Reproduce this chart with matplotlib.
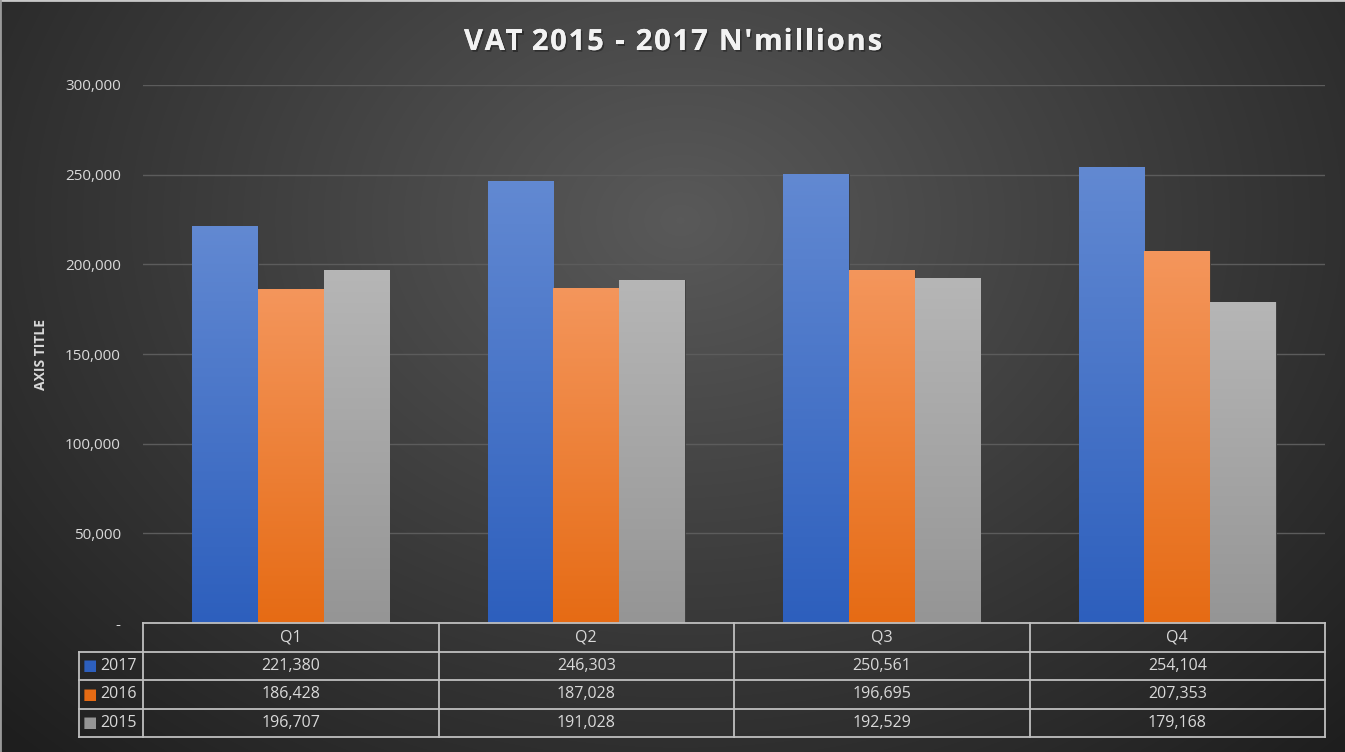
import numpy as np
import matplotlib
matplotlib.use("Agg")
import matplotlib.pyplot as plt
import matplotlib.patheffects as pe
from matplotlib.transforms import blended_transform_factory
from matplotlib.colors import LinearSegmentedColormap
from matplotlib.font_manager import FontProperties

# data
quarters = ["Q1", "Q2", "Q3", "Q4"]
years = ["2017", "2016", "2015"]
vat_2017 = [221380, 246303, 250561, 254104]
vat_2016 = [186428, 187028, 196695, 207353]
vat_2015 = [196707, 191028, 192529, 179168]
series = [vat_2017, vat_2016, vat_2015]
yticks = [0, 50000, 100000, 150000, 200000, 250000, 300000]
title = "VAT 2015 - 2017 N'millions"

# gradient colours (top, bottom) per series
grads = [("#6289d2", "#2d5fbd"), ("#f4965c", "#e66b14"), ("#b6b6b6", "#959595")]

W, H = 1345, 752
plt.rcParams['font.family'] = ['Open Sans', 'DejaVu Sans']
fig = plt.figure(figsize=(W / 100, H / 100), dpi=100)

# dark radial background
bg = fig.add_axes([0, 0, 1, 1], zorder=-10)
yy, xx = np.mgrid[0:H, 0:W]
d = np.sqrt(((xx - 680) / 900.0) ** 2 + ((yy - 220) / 700.0) ** 2)
val = np.clip(0.35 - 0.22 * d, 0.12, 0.35)
bg.imshow(np.dstack([val, val, val]), aspect="auto", extent=[0, 1, 0, 1])
bg.set_xlim(0, 1)
bg.set_ylim(0, 1)
bg.plot([0, 1], [1, 1], color="#c8c8c8", lw=2)
bg.plot([0, 0], [0, 1], color="#9a9a9a", lw=2)
bg.axis("off")

ax = fig.add_axes([143 / W, 1 - 623 / H, 1182 / W, 538 / H])
ax.patch.set_alpha(0)
for s in ax.spines.values():
    s.set_visible(False)
ax.set_yticks(yticks)
ax.set_yticklabels(["-" if v == 0 else f"{v:,}" for v in yticks],
                   color="#d9d9d9", fontsize=11)
ax.tick_params(axis="y", length=0, pad=16)
ax.set_xticks([])
ax.grid(axis="y", color="#5c5c5c", linewidth=1)
ax.set_axisbelow(True)
ax.set_ylabel("AXIS TITLE", color="#d9d9d9", fontsize=10, fontweight="bold", labelpad=12)

x = np.arange(len(quarters))
bw = 0.222
for i, vals in enumerate(series):
    bars = ax.bar(x + (i - 1) * bw, vals, width=bw, color=grads[i][1],
                  edgecolor="#3a3a3a", linewidth=0.6, zorder=2)
    cmap = LinearSegmentedColormap.from_list("g", [grads[i][1], grads[i][0]])
    for b in bars:
        x0, y0 = b.get_x(), b.get_y()
        im = ax.imshow(np.linspace(0, 1, 256).reshape(-1, 1), cmap=cmap, aspect="auto",
                       origin="lower", extent=[x0, x0 + b.get_width(), y0, y0 + b.get_height()],
                       zorder=2.5)
        im.set_clip_path(b)
ax.set_xlim(-0.5, 3.5)
ax.set_ylim(0, 300000)

# letter-spaced title
renderer = fig.canvas.get_renderer()
tprop = FontProperties(family=["Open Sans", "DejaVu Sans"], weight="bold", size=21)
def tw(s):
    w, _, _ = renderer.get_text_width_height_descent(s.replace(" ", "\u00a0"), tprop, ismath=False)
    return w
natural = tw(title)
target = 418
gap = (target - natural) / (len(title) - 1)
x_start = 673 - target / 2
shadow = [pe.withSimplePatchShadow(offset=(1.2, -1.2), shadow_rgbFace="black", alpha=0.35), pe.Normal()]
for k, ch in enumerate(title):
    if ch == " ":
        continue
    xp = x_start + tw(title[:k]) + k * gap if k else x_start
    fig.text(xp / W, 1 - 50 / H, ch, ha="left", va="baseline", fontproperties=tprop,
             color="#f2f2f2", path_effects=shadow)

# data table beneath the axes
tr = blended_transform_factory(ax.transData, ax.transAxes)
rh = 28.5 / 538
lc = "#bfbfbf"
lw = 1.3
leg_left = -0.5 - 64 / 295.5
ax.plot([-0.5, 3.5], [0, 0], transform=tr, color=lc, lw=lw, clip_on=False, zorder=5)
for r in range(1, 5):
    ax.plot([leg_left, 3.5], [-r * rh, -r * rh], transform=tr, color=lc, lw=lw, clip_on=False)
for k in range(5):
    ax.plot([k - 0.5, k - 0.5], [0, -4 * rh], transform=tr, color=lc, lw=lw, clip_on=False)
ax.plot([leg_left, leg_left], [-rh, -4 * rh], transform=tr, color=lc, lw=lw, clip_on=False)

for j, q in enumerate(quarters):
    ax.text(j, -0.5 * rh, q, transform=tr, ha="center", va="center", color="#d9d9d9", fontsize=11.5)
for i, (yr, vals) in enumerate(zip(years, series)):
    yc = -(i + 1.5) * rh
    ax.text(leg_left + 0.037, yc, "\u25a0", transform=tr, ha="center", va="center",
            color=grads[i][1], fontsize=11, family="DejaVu Sans")
    ax.text(leg_left + 0.071, yc, yr, transform=tr, ha="left", va="center", color="#d9d9d9", fontsize=11.5)
    for j, v in enumerate(vals):
        ax.text(j, yc, f"{v:,}", transform=tr, ha="center", va="center", color="#d9d9d9", fontsize=11.5)

fig.savefig("out.png", dpi=100, facecolor="#333333")
